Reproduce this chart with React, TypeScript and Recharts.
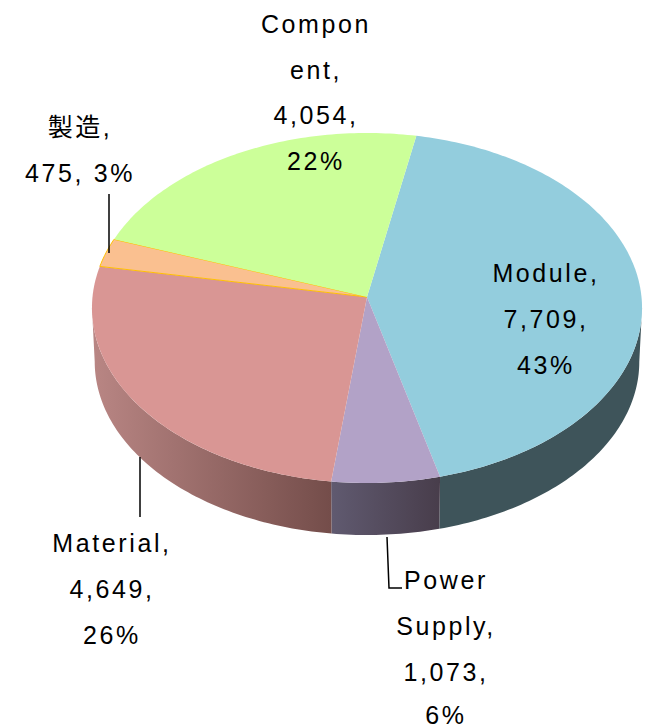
import React from "react";
import { PieChart, Pie } from "recharts";

const names = ["Module", "Power Supply", "Material", "製造", "Component"];
const values = [7709, 1073, 4649, 475, 4054];
const topColors = ["#93cddd", "#b2a2c7", "#d99694", "#fac090", "#ccff99"];
const wallFrom = ["#3e545a", "#605a70", "#b98684", "#b98684", "#7a9a5a"];
const wallTo = ["#3e545a", "#483d4b", "#744d4a", "#744d4a", "#7a9a5a"];
const edgeColors = ["none", "none", "none", "#ffc000", "none"];
const labelLines = [
  ["Module,", "7,709,", "43%"],
  ["Power", "Supply,", "1,073,", "6%"],
  ["Material,", "4,649,", "26%"],
  ["製造,", "475, 3%"],
  ["Compon", "ent,", "4,054,", "22%"],
];
const labelX = [546, 446, 112, 80, 316];
const labelBaselines = [
  [282, 328, 374],
  [589, 635, 681, 724],
  [552, 598, 644],
  [136, 182],
  [33, 79, 124, 170],
];
const leaderPaths = [
  "",
  "M387 537 L389 588 L402 588",
  "M140 457 L140 517",
  "M109 194 L109 253",
  "",
];

const data = names.map((name, i) => ({
  name,
  value: values[i],
  fill: topColors[i],
  wallFrom: wallFrom[i],
  wallTo: wallTo[i],
  edge: edgeColors[i],
  index: i,
}));

const TILT = 0.635;
const PERSPECTIVE = 0.0628;
const WALL_SCALE = 0.99;
const WALL_DROP = 53.9;
const WALL_FIRST = 93.6;
const WALL_LAST = 266.4;

function rim(cx: number, cy: number, r: number, theta: number) {
  const t = (theta * Math.PI) / 180;
  const u = Math.sin(t);
  const v = Math.cos(t);
  const w = 1 + PERSPECTIVE * v;
  return [cx + (r * u) / w, cy - (r * TILT * v) / w];
}

function sample(from: number, to: number) {
  const out: number[] = [];
  const n = Math.max(2, Math.ceil(Math.abs(to - from)));
  for (let i = 0; i <= n; i++) out.push(from + ((to - from) * i) / n);
  return out;
}

function SliceShape(props: any) {
  const { cx, cy, outerRadius, startAngle, endAngle } = props;
  const p = props.payload ?? props;
  const a = 90 - startAngle;
  const b = 90 - endAngle;
  const top = sample(a, b).map((t) => rim(cx, cy, outerRadius, t));
  const topPath =
    `M${cx} ${cy} ` + top.map(([x, y]) => `L${x.toFixed(2)} ${y.toFixed(2)}`).join(" ") + " Z";

  let wall: React.ReactNode = null;
  const wallA = Math.max(a, WALL_FIRST);
  const wallB = Math.min(b, WALL_LAST);
  if (wallB > wallA) {
    const ts = sample(wallA, wallB);
    const upper = ts.map((t) => rim(cx, cy, outerRadius, t));
    const lower = ts
      .map((t) => {
        const [x, y] = rim(cx, cy, outerRadius, t);
        return [cx + (x - cx) * WALL_SCALE, cy + (y - cy) * WALL_SCALE + WALL_DROP];
      })
      .reverse();
    const d =
      [...upper, ...lower]
        .map(([x, y], i) => `${i ? "L" : "M"}${x.toFixed(2)} ${y.toFixed(2)}`)
        .join(" ") + " Z";
    const id = `wall-${p.index}`;
    wall = (
      <>
        <defs>
          <linearGradient id={id} x1="0" y1="0" x2="1" y2="0">
            <stop offset="0" stopColor={p.wallFrom} />
            <stop offset="1" stopColor={p.wallTo} />
          </linearGradient>
        </defs>
        <path d={d} fill={`url(#${id})`} stroke="none" />
      </>
    );
  }
  return (
    <g>
      {wall}
      <path
        d={topPath}
        fill={p.fill}
        stroke={p.edge}
        strokeWidth={p.edge === "none" ? 0 : 1}
        strokeLinejoin="round"
      />
    </g>
  );
}

function SliceLabel(props: any) {
  const i = props.payload?.index ?? props.index;
  return (
    <g>
      {leaderPaths[i] ? (
        <path d={leaderPaths[i]} fill="none" stroke="#000" strokeWidth={1.5} />
      ) : null}
      {labelLines[i].map((line, k) => (
        <text
          key={k}
          x={labelX[i]}
          y={labelBaselines[i][k]}
          textAnchor="middle"
          fill="#000"
          stroke="none"
          fontSize={25}
          letterSpacing={2.6}
          fontFamily="'Liberation Sans', 'Noto Sans CJK JP', sans-serif"
        >
          {line}
        </text>
      ))}
    </g>
  );
}

export default function App() {
  return (
    <div style={{ position: "absolute", left: 0, top: 0, width: 645, height: 728 }}>
      <PieChart width={645} height={728} margin={{ top: 0, right: 0, bottom: 0, left: 0 }}>
        <Pie
          data={data}
          dataKey="value"
          nameKey="name"
          cx={367}
          cy={297}
          innerRadius={0}
          outerRadius={274.5}
          startAngle={79}
          endAngle={-281}
          paddingAngle={0}
          isAnimationActive={false}
          shape={SliceShape}
          label={SliceLabel}
          labelLine={false}
        />
      </PieChart>
    </div>
  );
}
